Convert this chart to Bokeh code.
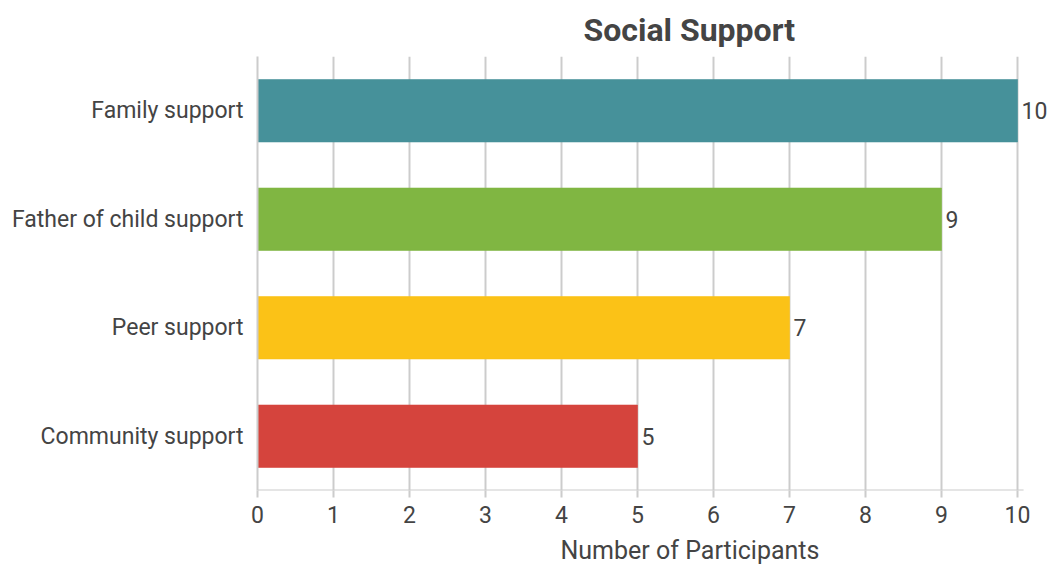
from bokeh.plotting import figure
from bokeh.models import ColumnDataSource, FactorRange, Range1d, Title, FixedTicker, LabelSet
from bokeh.transform import dodge
from bokeh.core.properties import value
from bokeh.embed import file_html
from bokeh.resources import INLINE

categories = ["Family support", "Father of child support", "Peer support", "Community support"]
counts = [10, 9, 7, 5]
colors = ["#46919A", "#80B642", "#FBC217", "#D5443D"]
x_ticks = [0, 1, 2, 3, 4, 5, 6, 7, 8, 9, 10]
title_text = "Social Support"
x_label = "Number of Participants"

FONT = "Roboto"
TXT = "#444444"

src = ColumnDataSource(dict(cat=categories, n=counts, color=colors, lbl=[str(c) for c in counts]))

p = figure(width=1051, height=574, output_backend="svg", toolbar_location=None,
           y_range=FactorRange(factors=list(reversed(categories)), range_padding=0),
           x_range=Range1d(0, 10.447),
           min_border_left=257, min_border_right=0, min_border_top=56, min_border_bottom=84)
p.outline_line_color = None

# bottom axis line drawn only up to a little past the last tick
axsrc = ColumnDataSource(dict(cat=[categories[-1]], x0=[0], x1=[10.08]))
p.segment(x0="x0", x1="x1", y0=dodge("cat", -0.5, range=p.y_range),
          y1=dodge("cat", -0.5, range=p.y_range), source=axsrc,
          line_color="#cccccc", line_width=2)

p.hbar(y="cat", right="n", left=0, height=0.575, fill_color="color", line_color="color",
       line_alpha=0.6, source=src)
labels = LabelSet(x="n", y="cat", text="lbl", source=src, x_offset=4, text_align="left",
                  text_baseline="middle", text_font=value(FONT), text_font_size="23px",
                  text_color=TXT)
p.add_layout(labels)

p.xaxis.ticker = FixedTicker(ticks=x_ticks)
p.xaxis.axis_line_color = None
p.xaxis.major_tick_line_color = "#cccccc"
p.xaxis.major_tick_line_width = 2
p.xaxis.major_tick_out = 7
p.xaxis.major_tick_in = 0
p.xaxis.minor_tick_line_color = None
p.xaxis.major_label_text_font = FONT
p.xaxis.major_label_text_font_size = "23px"
p.xaxis.major_label_text_color = TXT
p.xaxis.major_label_standoff = 8

p.yaxis.axis_line_color = "#cccccc"
p.yaxis.axis_line_width = 2
p.yaxis.major_tick_line_color = None
p.yaxis.minor_tick_line_color = None
p.yaxis.major_label_text_font = FONT
p.yaxis.major_label_text_font_size = "23px"
p.yaxis.major_label_text_color = TXT
p.yaxis.major_label_standoff = 8

p.xgrid.grid_line_color = "#cccccc"
p.xgrid.grid_line_width = 2
p.ygrid.grid_line_color = None

t = Title(text=title_text, align="left", offset=326, text_font=FONT, text_font_size="32px",
          text_font_style="bold", text_color=TXT, standoff=16)
p.add_layout(t, "above")

xl = Title(text=x_label, align="left", offset=303, text_font=FONT, text_font_size="25px",
           text_font_style="normal", text_color=TXT, standoff=17)
p.add_layout(xl, "below")

open("out.html", "w").write(file_html(p, INLINE))
